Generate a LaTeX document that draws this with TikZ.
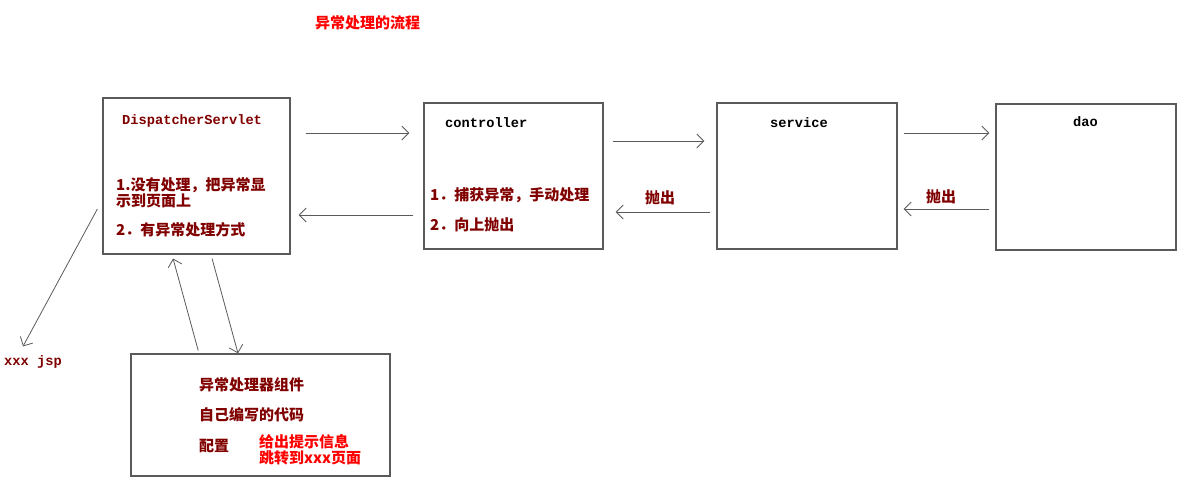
\documentclass[tikz,border=0pt]{standalone}
\usepackage{fontspec}
\usepackage{tikz}
\usetikzlibrary{calc,arrows.meta}
\setmonofont{Liberation Mono}
\newfontfamily\cjk{Noto Sans CJK SC}
\definecolor{darkred}{HTML}{800000}
\definecolor{boxgray}{HTML}{5A5A5A}
\newcommand{\cnfont}{\cjk\bfseries\fontsize{15}{16}\selectfont}
\newcommand{\codefont}{\ttfamily\bfseries\fontsize{13.7}{15}\selectfont}

\begin{document}
\begin{tikzpicture}[x=1pt,y=-1pt,
  box/.style={draw=boxgray,line width=1.3pt,inner sep=0pt},
  arr/.style={draw=boxgray,line width=0.8pt,-{Straight Barb[length=7pt,width=14pt]}},
  txt/.style={anchor=west,inner sep=0pt}]
  \useasboundingbox (0,0) rectangle (1184,484);

  %% Title
  \node[txt,text=red] (TITLE) at (315,23) {\cnfont 异常处理的流程};

  %% Building the boxes
  \foreach \name/\x/\y/\w/\h in {DS/103/98/187/156, CTRL/424/103/179/146,
      SRV/717/103/180/146, DAO/996/104/180/146, HDL/131/354/259/122}
  {
    \node[box,minimum width=\w,minimum height=\h] (\name) at (\x+\w/2,\y+\h/2) {};
  }

  %% Box titles
  \node[txt,text=darkred] (DSname) at (122,121) {\codefont DispatcherServlet};
  \node[txt] (CTRLname) at (445,123) {\codefont controller};
  \node[txt] (SRVname) at (770,123) {\codefont service};
  \node[txt] (DAOname) at (1073,122) {\codefont dao};

  %% Texts inside the boxes
  \node[txt,text=darkred] (DSa) at (116,185) {\cnfont 1.没有处理，把异常显};
  \node[txt,text=darkred] (DSb) at (116,201) {\cnfont 示到页面上};
  \node[txt,text=darkred] (DSc) at (116,230) {\cnfont 2．有异常处理方式};
  \node[txt,text=darkred] (CTRLa) at (430,195) {\cnfont 1．捕获异常，手动处理};
  \node[txt,text=darkred] (CTRLb) at (430,225) {\cnfont 2．向上抛出};
  \node[txt,text=darkred] (HDLa) at (199,385) {\cnfont 异常处理器组件};
  \node[txt,text=darkred] (HDLb) at (199,415) {\cnfont 自己编写的代码};
  \node[txt,text=darkred] (HDLc) at (199,446) {\cnfont 配置};
  \node[txt,text=red] (HDLd) at (259,442) {\cnfont 给出提示信息};
  \node[txt,text=red] (HDLe) at (259,458) {\cnfont 跳转到xxx页面};
  \node[txt,text=darkred] (JSP) at (4,362) {\codefont xxx jsp};

  %% Calls going right
  \foreach \a/\b/\y/\s/\e in {DS/CTRL/133/15/14, CTRL/SRV/141/9/12, SRV/DAO/133/6/6}
  {
    \coordinate (h) at (0,\y);
    \draw[arr,shorten <=\s pt,shorten >=\e pt] (\a.east |- h) -- (\b.west |- h);
  }

  %% Exceptions thrown back
  \foreach \a/\b/\y/\s/\e in {CTRL/DS/215/10/8, SRV/CTRL/212/6/12, DAO/SRV/209/6/6}
  {
    \coordinate (h) at (0,\y);
    \draw[arr,shorten <=\s pt,shorten >=\e pt] (\a.west |- h) -- (\b.east |- h);
  }
  \node[txt,text=darkred] (THR1) at (645,198) {\cnfont 抛出};
  \node[txt,text=darkred] (THR2) at (926,197) {\cnfont 抛出};

  %% To the page and to the handler
  \draw[arr] ([xshift=-5pt,yshift=-33pt]DS.west) -- ([xshift=-10pt,yshift=9pt]JSP.north);
  \draw[arr,shorten <=3pt,shorten >=4pt] ([xshift=-61.5pt]HDL.north) -- ([xshift=-24.5pt]DS.south);
  \draw[arr,shorten <=4pt] ([xshift=14.5pt]DS.south) -- ([xshift=-22.5pt]HDL.north);
\end{tikzpicture}
\end{document}
